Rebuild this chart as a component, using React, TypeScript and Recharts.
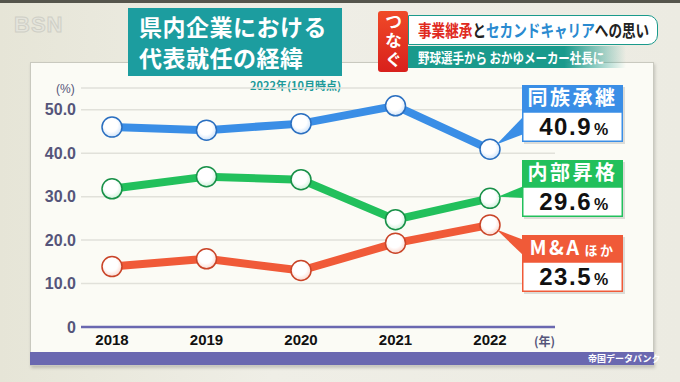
import React from "react";
import { LineChart, Line, XAxis, YAxis, CartesianGrid } from "recharts";

const years = ["2018", "2019", "2020", "2021", "2022"];
const family = [46.0, 45.3, 46.8, 50.9, 40.9];
const internal = [31.8, 34.6, 33.9, 24.7, 29.6];
const mna = [13.9, 15.7, 13.0, 19.3, 23.5];
const yTicks = [0, 10, 20, 30, 40, 50];

const data = years.map((y, i) => ({
  year: y,
  family: family[i],
  internal: internal[i],
  mna: mna[i],
}));

const JP = '"Noto Sans CJK JP", "Noto Sans", sans-serif';
const NUM = '"Liberation Sans", Arial, sans-serif';

type Tag = {
  main: string;
  sub?: string;
  color: string;
  dark: string;
  tint: string;
  grad: string;
  top: number;
  wedge: [number, number];
};

const tags: Record<string, Tag> = {
  family: { main: "同族承継", color: "#3a8ee6", dark: "#2a6fc0", tint: "#cfe3fa", grad: "gBlue", top: 85, wedge: [116, 134] },
  internal: { main: "内部昇格", color: "#22c05c", dark: "#189048", tint: "#cdf1da", grad: "gGreen", top: 160, wedge: [186, 198] },
  mna: { main: "M&A", sub: "ほか", color: "#f05a38", dark: "#c94428", tint: "#fbd8cf", grad: "gRed", top: 235, wedge: [240, 256] },
};

const BX = 522;
const BW = 101;

function makeDot(key: string) {
  const t = tags[key];
  return (props: any) => {
    const { cx, cy, index } = props;
    if (cx == null || cy == null) return null;
    return (
      <circle key={`${key}-${index}`} cx={cx} cy={cy} r={10} fill={`url(#${t.grad})`} stroke={t.dark} strokeWidth={1.5} />
    );
  };
}

function makeTag(key: string) {
  const t = tags[key];
  return (props: any) => {
    const { x, y, index, value } = props;
    if (index !== years.length - 1) return null;
    const mid = (t.wedge[0] + t.wedge[1]) / 2;
    const dx = BX - x;
    const dy = mid - y;
    const len = Math.sqrt(dx * dx + dy * dy);
    const tx = x + (dx / len) * 8;
    const ty = y + (dy / len) * 8;
    const h1 = 27;
    const h2 = 30;
    return (
      <g key={`tag-${key}`}>
        <polygon points={`${tx},${ty} ${BX + 2},${t.wedge[0]} ${BX + 2},${t.wedge[1]}`} fill={t.color} />
        <rect x={BX + 2} y={t.top + 2} width={BW} height={h1 + h2} fill="rgba(0,0,0,0.12)" />
        <rect x={BX} y={t.top} width={BW} height={h1} fill={t.color} />
        <rect x={BX + 0.75} y={t.top + h1} width={BW - 1.5} height={h2 - 0.75} fill="#fff" stroke={t.color} strokeWidth={1.5} />
        <text x={BX + BW / 2} y={t.top + 20} textAnchor="middle" fill="#fff" fontFamily={JP} fontWeight={700} fontSize={20} letterSpacing={2.5}>
          {t.main}
          {t.sub ? <tspan fontSize={13} dx={3}>{t.sub}</tspan> : null}
        </text>
        <text x={BX + BW / 2 + 2} y={t.top + h1 + 23} textAnchor="middle" fill="#111" fontFamily={NUM} fontWeight={700} fontSize={24} letterSpacing={1.5}>
          {Number(value).toFixed(1)}
          <tspan fontSize={16} dx={2}>%</tspan>
        </text>
      </g>
    );
  };
}

function Header() {
  return (
    <>
      <div style={{ position: "absolute", left: 0, top: 0, width: 680, height: 3, background: "#55554c" }} />
      <div style={{ position: "absolute", left: 14, top: 12, fontFamily: NUM, fontWeight: 700, fontSize: 22, color: "#e4e4dc", letterSpacing: 1, WebkitTextStroke: "1px #cfcfc6" }}>
        BSN
      </div>
      {/* panel */}
      <div style={{ position: "absolute", left: 30, top: 62, width: 622, height: 302, background: "#fbfbf5", border: "1px solid #c9c9bf", boxShadow: "1px 2px 3px rgba(0,0,0,0.18)" }} />
      <div style={{ position: "absolute", left: 30, top: 352, width: 624, height: 13, background: "#6a68b0" }} />
      <div style={{ position: "absolute", left: 588, top: 352, fontFamily: JP, fontSize: 9, color: "#fff", lineHeight: "13px", fontWeight: 700 }}>帝国データバンク</div>
      {/* title */}
      <div style={{ position: "absolute", left: 128, top: 8, width: 214, height: 68, background: "#1c9d9f", boxSizing: "border-box" }} />
      {["県内企業における", "代表就任の経緯"].map((s, i) => (
        <div key={s} style={{ position: "absolute", left: 139, top: 11 + i * 31, fontFamily: JP, fontWeight: 700, fontSize: 23, lineHeight: "31px", letterSpacing: 0.5, color: "#fff", whiteSpace: "nowrap" }}>
          {s}
        </div>
      ))}
      <div style={{ position: "absolute", left: 250, top: 77, fontFamily: JP, fontWeight: 700, fontSize: 11, color: "#1e9a9a" }}>2022年(10月時点)</div>
      {/* banner */}
      <div style={{ position: "absolute", left: 406, top: 46, width: 220, height: 22, background: "linear-gradient(90deg, #1a9a8c 0%, #1a9a8c 72%, rgba(26,154,140,0) 100%)", boxSizing: "border-box" }} />
      <div style={{ position: "absolute", left: 418, top: 46, height: 22, color: "#fff", fontFamily: JP, fontWeight: 700, fontSize: 14, lineHeight: "22px", whiteSpace: "nowrap", transform: "scaleX(0.82)", transformOrigin: "0 0" }}>
        野球選手から おかゆメーカー社長に
      </div>
      <div style={{ position: "absolute", left: 408, top: 15, width: 250, height: 30, background: "#fff", borderRadius: "0 10px 10px 0", border: "1.5px solid #1a9a8c", boxSizing: "border-box" }} />
      <div style={{ position: "absolute", left: 418, top: 16, fontFamily: JP, fontWeight: 700, fontSize: 17, lineHeight: "27px", whiteSpace: "nowrap", transform: "scaleX(0.8)", transformOrigin: "0 0" }}>
        <span style={{ color: "#e02a1e" }}>事業継承</span>
        <span style={{ color: "#222" }}>と</span>
        <span style={{ color: "#2a8ad0" }}>セカンドキャリア</span>
        <span style={{ color: "#222" }}>への思い</span>
      </div>
      <div style={{ position: "absolute", left: 378, top: 11, width: 30, height: 61, background: "linear-gradient(180deg, #f04a28, #d8201c)", borderRadius: 3, boxSizing: "border-box" }} />
      <div style={{ position: "absolute", left: 378, top: 13, width: 30, height: 58, color: "#fff", fontFamily: JP, fontWeight: 700, fontSize: 17, lineHeight: "30px", letterSpacing: 2, writingMode: "vertical-rl", display: "flex", alignItems: "center" }}>
        つなぐ
      </div>
      {/* axis captions */}
      <div style={{ position: "absolute", left: 56, top: 82, fontFamily: NUM, fontSize: 12, color: "#55557a" }}>(%)</div>
      <div style={{ position: "absolute", left: 534, top: 332, fontFamily: JP, fontSize: 12, fontWeight: 700, color: "#55557a" }}>(年)</div>
    </>
  );
}

export default function App() {
  return (
    <div style={{ position: "absolute", left: 0, top: 0, width: 680, height: 382, overflow: "hidden", background: "linear-gradient(90deg, #e6e5d7 0%, #efeee6 40%, #ecebe2 100%)" }}>
      <Header />
      <div style={{ position: "absolute", left: 0, top: 0 }}>
        <LineChart width={680} height={382} data={data} margin={{ top: 88, right: 125, bottom: 25, left: 31 }}>
          <defs>
            {Object.values(tags).map((t) => (
              <radialGradient key={t.grad} id={t.grad} cx="45%" cy="40%" r="60%">
                <stop offset="0%" stopColor="#ffffff" />
                <stop offset="55%" stopColor="#ffffff" />
                <stop offset="100%" stopColor={t.tint} />
              </radialGradient>
            ))}
          </defs>
          <CartesianGrid vertical={false} stroke="#e1e1da" strokeWidth={1.5} />
          <XAxis
            dataKey="year"
            height={30}
            padding={{ left: 31, right: 65 }}
            axisLine={{ stroke: "#6a68b0", strokeWidth: 2.5 }}
            tickLine={false}
            tickSize={0}
            tickMargin={7}
            tick={{ fill: "#111", fontSize: 15, fontWeight: 700, fontFamily: NUM }}
          />
          <YAxis
            width={50}
            domain={[0, 55]}
            ticks={yTicks}
            axisLine={false}
            tickLine={false}
            tickSize={0}
            tickMargin={5}
            tickFormatter={(v: number) => (v === 0 ? "0" : v.toFixed(1))}
            tick={{ fill: "#55557a", fontSize: 16, fontWeight: 700, fontFamily: NUM }}
          />
          {(["mna", "internal", "family"] as const).map((k) => (
            <Line
              key={k}
              dataKey={k}
              type="linear"
              stroke={tags[k].color}
              strokeWidth={8}
              strokeLinejoin="round"
              dot={makeDot(k)}
              activeDot={false}
              label={makeTag(k)}
              isAnimationActive={false}
            />
          ))}
        </LineChart>
      </div>
    </div>
  );
}
